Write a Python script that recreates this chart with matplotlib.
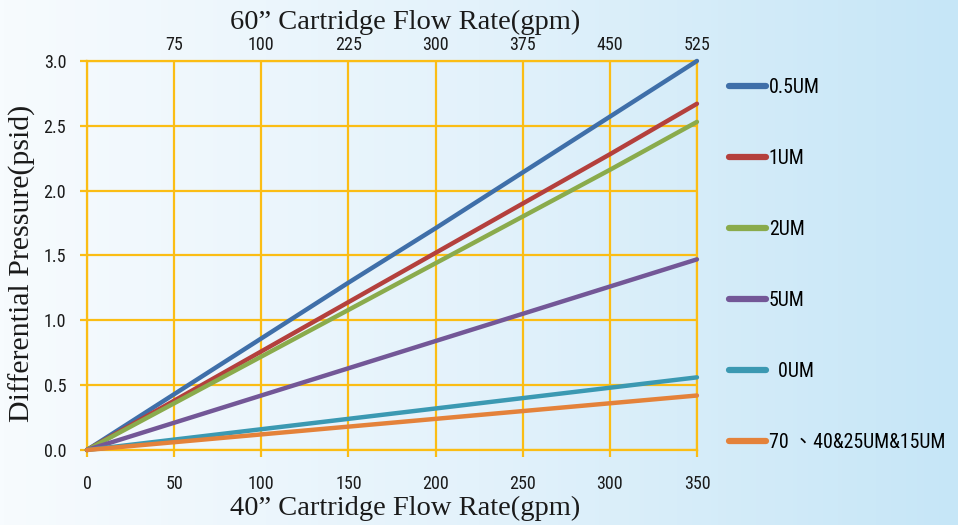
import matplotlib
matplotlib.use("Agg")
import matplotlib.pyplot as plt
from matplotlib.colors import LinearSegmentedColormap
from matplotlib.font_manager import FontProperties
import numpy as np

# ----------------------------
# data
# ----------------------------
flow_40 = [0, 50, 100, 150, 200, 250, 300, 350]
flow_60_labels = ["75", "100", "225", "300", "375", "450", "525"]

dp_05um = [0, 0.43, 0.86, 1.29, 1.71, 2.14, 2.57, 3.00]
dp_1um = [0, 0.38, 0.76, 1.14, 1.52, 1.90, 2.28, 2.67]
dp_2um = [0, 0.36, 0.72, 1.08, 1.44, 1.80, 2.16, 2.53]
dp_5um = [0, 0.21, 0.42, 0.63, 0.84, 1.05, 1.26, 1.47]
dp_0um = [0, 0.08, 0.16, 0.24, 0.32, 0.40, 0.48, 0.56]
dp_70um = [0, 0.06, 0.12, 0.18, 0.24, 0.30, 0.36, 0.42]

labels = ["0.5UM", "1UM", "2UM", "5UM", "  0UM", "70 \u300140&25UM&15UM"]
series = [dp_05um, dp_1um, dp_2um, dp_5um, dp_0um, dp_70um]
colors = ["#3f6fa9", "#b4403d", "#8aab4c", "#735797", "#3b99b2", "#e4823a"]

GOLD = "#fbbd14"
narrow = ["Roboto Condensed", "Noto Sans CJK TC", "DejaVu Sans"]
serif = ["Liberation Serif", "DejaVu Serif"]


def tick_font(size):
    return FontProperties(family=narrow, weight="normal", size=size)


# ----------------------------
# figure + gradient background
# ----------------------------
fig = plt.figure(figsize=(9.58, 5.25), dpi=100)
bg = fig.add_axes([0, 0, 1, 1], zorder=-10)
grad = np.linspace(0, 1, 256).reshape(1, -1)
cmap = LinearSegmentedColormap.from_list("bg", ["#f7fbfe", "#e3f2fb", "#c6e6f7"])
bg.imshow(grad, aspect="auto", cmap=cmap, extent=[0, 1, 0, 1])
bg.axis("off")

ax = fig.add_axes([0.0908, 0.1429, 0.6367, 0.741])
ax.set_facecolor("none")

for y, lab, c in zip(series, labels, colors):
    ax.plot(flow_40, y, color=c, lw=3.2, label=lab, solid_capstyle="round",
            clip_on=False, zorder=3)

ax.set_xlim(0, 350)
ax.set_ylim(0, 3.0)
ax.set_xticks(flow_40)
yt = np.arange(0, 3.01, 0.5)
ax.set_yticks(yt)
ax.set_yticklabels([f"{v:.1f}" for v in yt])
ax.grid(True, color=GOLD, lw=1.6)
for s in ax.spines.values():
    s.set_color(GOLD)
    s.set_linewidth(1.6)
ax.tick_params(axis="both", colors=GOLD, width=1.6, length=5, labelcolor="#1a1a1a")
ax.tick_params(axis="y", pad=10)
ax.tick_params(axis="x", pad=13)
for t in ax.get_xticklabels() + ax.get_yticklabels():
    t.set_fontproperties(tick_font(13))

top = ax.twiny()
top.set_xlim(ax.get_xlim())
top.set_xticks(flow_40[1:])
top.set_xticklabels(flow_60_labels, color="#1a1a1a")
for t in top.get_xticklabels():
    t.set_fontproperties(tick_font(13))
top.tick_params(axis="x", length=0, pad=5)
for s in top.spines.values():
    s.set_visible(False)

fig.text(405 / 958, 1 - 22 / 525, "60\u201d Cartridge Flow Rate(gpm)", ha="center",
         va="center", family=serif, fontsize=20.5, color="#1a1a1a")
fig.text(405 / 958, 1 - 508 / 525, "40\u201d Cartridge Flow Rate(gpm)", ha="center",
         va="center", family=serif, fontsize=20.5, color="#1a1a1a")
fig.text(22 / 958, 1 - 263 / 525, "Differential Pressure(psid)", ha="center",
         va="center", rotation=90, family=serif, fontsize=21.5, color="#1a1a1a")

leg = ax.legend(loc="upper left", bbox_to_anchor=(729 / 958, 1 - 78 / 525),
                bbox_transform=fig.transFigure, frameon=False,
                prop=tick_font(14.3), handlelength=1.85,
                handletextpad=0.15, labelspacing=2.62, borderaxespad=0,
                borderpad=0)
for h in leg.get_lines():
    h.set_linewidth(4.5)

fig.savefig("out.png", dpi=100)
